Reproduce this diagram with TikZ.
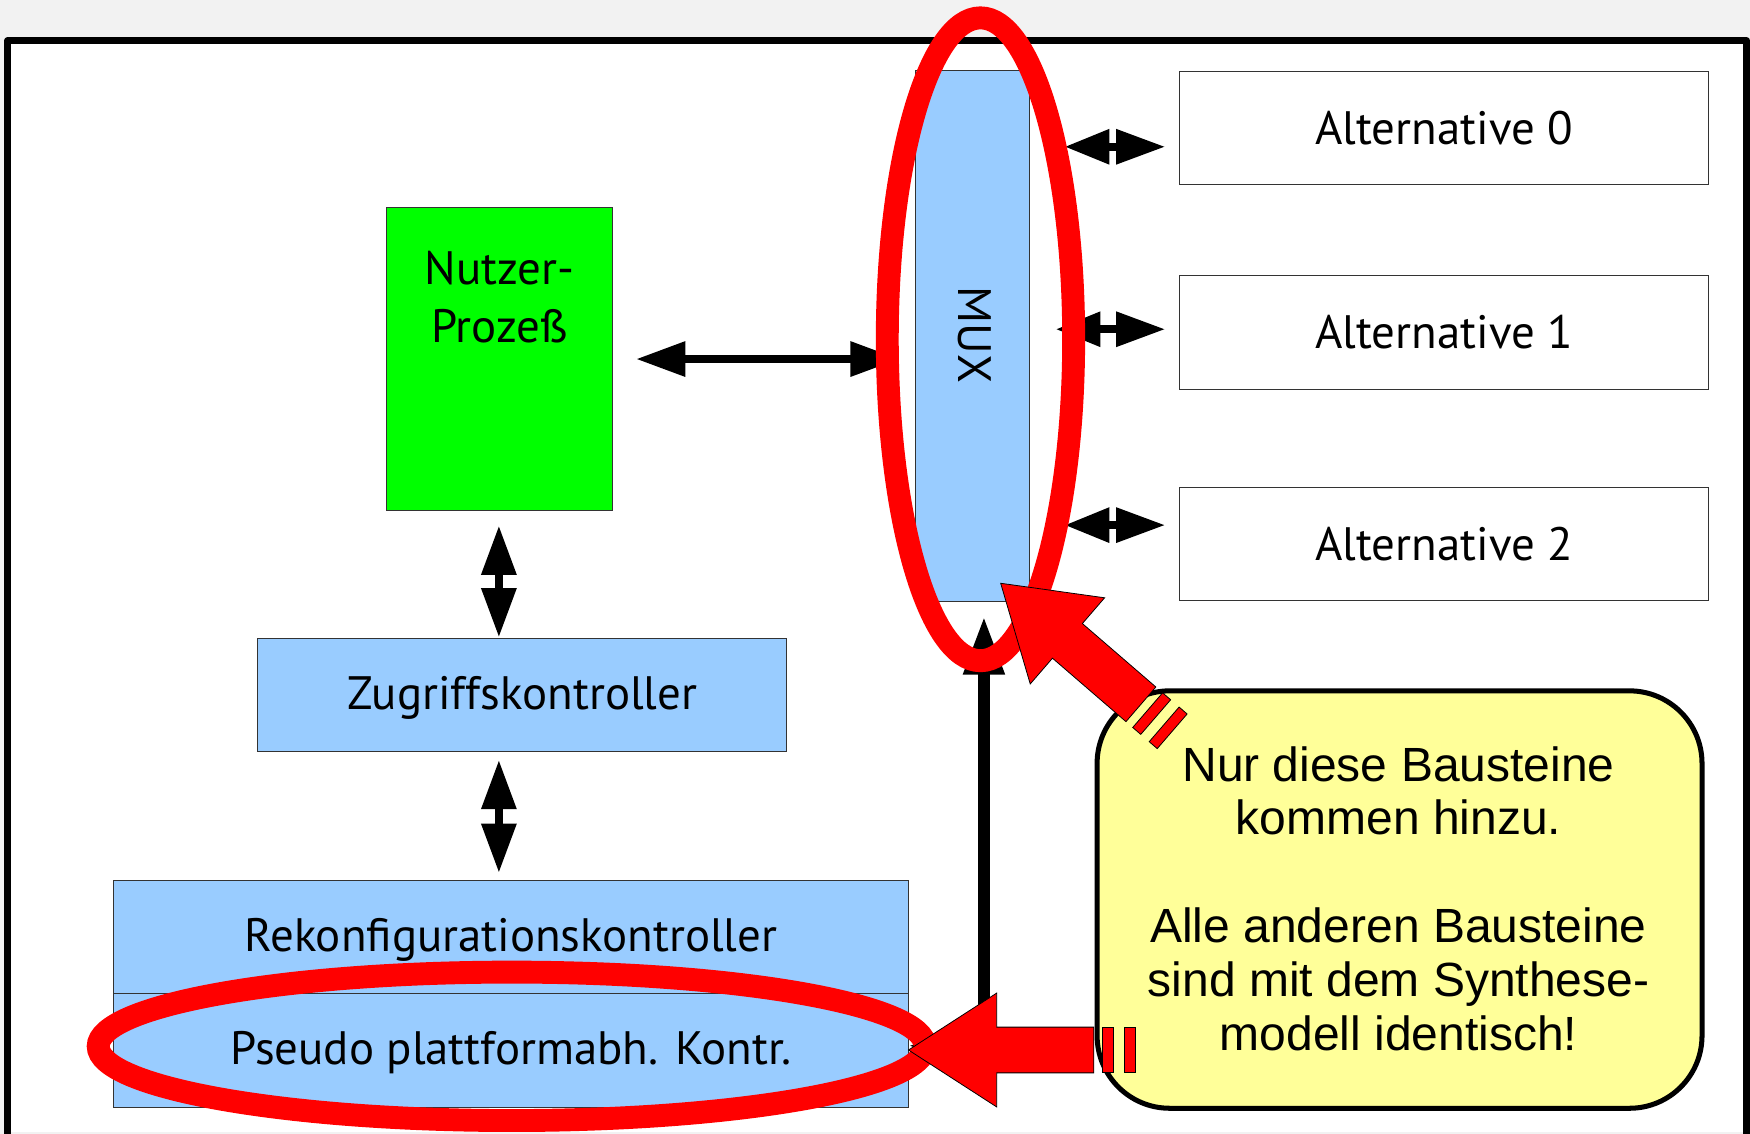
\documentclass[tikz,border=0pt]{standalone}
\usepackage{fontspec}
\setmainfont{Liberation Sans}
\newfontfamily\boxfont{PT Sans}
\usetikzlibrary{arrows.meta}
\definecolor{bgGray}{HTML}{F2F2F2}
\definecolor{muxBlue}{HTML}{99CCFF}
\definecolor{procGreen}{HTML}{00FF00}
\definecolor{noteYellow}{HTML}{FFFF99}
\definecolor{markRed}{HTML}{FF0000}
\tikzset{
  boxbase/.style={draw=black!80, line width=0.9pt, inner sep=0pt, font=\boxfont\fontsize{42}{52}\selectfont},
  bluebox/.style={boxbase, fill=muxBlue, text depth=4pt},
  greenbox/.style={boxbase, fill=procGreen},
  altbox/.style={boxbase, fill=white},
  dblarrow/.style={draw=black, line width=7pt, {Triangle[length=44pt,width=30pt]}-{Triangle[length=44pt,width=30pt]}},
  sidearrow/.style={draw=black, line width=7pt, {Triangle[length=40pt,width=30pt]}-{Triangle[length=44pt,width=30pt]}},
  feedarrow/.style={draw=black, line width=10pt, {Triangle[length=52pt,width=35pt]}-{Triangle[length=52pt,width=35pt]}},
  redring/.style={draw=markRed, line width=20.5pt},
  redshape/.style={fill=markRed, draw=black, line width=0.7pt, line join=miter},
  note/.style={draw=black, line width=4.5pt, fill=noteYellow, rounded corners=65pt},
}
\begin{document}
\begin{tikzpicture}[x=1pt,y=-1pt]
\useasboundingbox (0,0) rectangle (1568,1016);
\clip (0,0) rectangle (1568,1016);
% background and frame
\fill[bgGray] (0,0) rectangle (1568,1016);
\fill[white] (7,36.5) rectangle (1565,1014.5);
\draw[black, line width=6.3pt, line join=round] (7,1030) -- (7,36.5) -- (1565,36.5) -- (1565,1030);

% boxes
\node[greenbox, minimum width=203pt, minimum height=271pt] (nutzer) at (447.5,321.5) {};
\node[font=\boxfont\fontsize{42}{52}\selectfont, align=center, inner sep=0pt] (nutzertxt) at (447.5,266) {Nutzer-\\Prozeß};
\node[bluebox, minimum width=474pt, minimum height=101.5pt] (zug) at (468,622.5) {Zugriffskontroller};
\node[bluebox, minimum width=711.6pt, minimum height=101.5pt] (rek) at (457.8,839.75) {Rekonfigurationskontroller};
\node[bluebox, minimum width=711.6pt, minimum height=101.5pt] (pseudo) at (457.8,941.25) {Pseudo plattformabh. Kontr.};
\node[bluebox, minimum width=102pt, minimum height=475pt] (mux) at (871,301) {};
\node[font=\boxfont\fontsize{42}{52}\selectfont, rotate=-90, inner sep=0pt] (muxtxt) at (873,300) {MUX};
\node[altbox, minimum width=474pt, minimum height=101pt] (alt0) at (1294,114.5) {Alternative 0};
\node[altbox, minimum width=474pt, minimum height=102pt] (alt1) at (1294,298) {Alternative 1};
\node[altbox, minimum width=474pt, minimum height=101pt] (alt2) at (1294,487.5) {Alternative 2};

% connector end points
\coordinate (nuR) at (570,321.7);
\coordinate (muL) at (806,321.7);
\coordinate (nuB) at (447,471);
\coordinate (zuT) at (447,571);
\coordinate (zuB) at (447,681);
\coordinate (reT) at (447,782);
\coordinate (m0) at (954,131.5);
\coordinate (a0) at (1044,131.5);
\coordinate (m1) at (946,295);
\coordinate (a1) at (1044,295);
\coordinate (m2) at (954,470.5);
\coordinate (a2) at (1044,470.5);
\coordinate (pk) at (814,937);
\coordinate (mk) at (881.6,552.5);

% black connectors
\draw[dblarrow] (nuR) -- (muL);
\draw[dblarrow] (nuB) -- (zuT);
\draw[dblarrow] (zuB) -- (reT);
\draw[sidearrow] (m0) -- (a0);
\draw[sidearrow] (m1) -- (a1);
\draw[sidearrow] (m2) -- (a2);
\draw[feedarrow] (pk) -| (mk);

% red rings
\draw[redring] (878.5,304) ellipse [x radius=83.5, y radius=288];
\draw[redring] (458.5,937.5) ellipse [x radius=370.5, y radius=66.5];

% callout
\draw[note] (983,619) rectangle (1525,993);
\node[font=\fontsize{43}{48.2}\selectfont, align=center, inner sep=0pt] (notetxt) at (1253,805)
  {Nur diese Bausteine\\kommen hinzu.\\[48.2pt]Alle anderen Bausteine\\sind mit dem Synthese-\\modell identisch!};

% red block arrows
\begin{scope}[shift={(896.6,522.6)}, rotate=-40.8]
  \draw[redshape] (0,0) -- (79,51) -- (79,20.5) -- (166,20.5) -- (166,-20.5) -- (79,-20.5) -- (79,-51) -- cycle;
  \draw[redshape] (174,-20.5) rectangle (183.5,20.5);
  \draw[redshape] (193.5,-20.5) rectangle (203,20.5);
\end{scope}
\begin{scope}[shift={(814,940.8)}]
  \draw[redshape] (0,0) -- (79,51) -- (79,20.5) -- (166,20.5) -- (166,-20.5) -- (79,-20.5) -- (79,-51) -- cycle;
  \draw[redshape] (174,-20.5) rectangle (183.5,20.5);
  \draw[redshape] (193.5,-20.5) rectangle (203,20.5);
\end{scope}
\end{tikzpicture}
\end{document}
